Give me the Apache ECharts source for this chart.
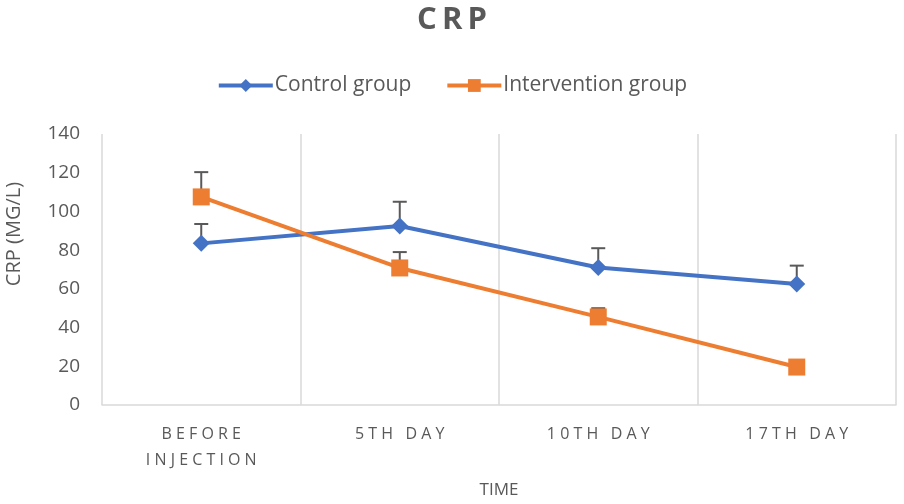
<!DOCTYPE html>
<html><head><meta charset="utf-8">
<script src="https://cdn.jsdelivr.net/npm/echarts@6/dist/echarts.min.js"></script>
<style>html,body{margin:0;padding:0;background:#fff}#c{width:904px;height:504px}</style>
</head><body><div id="c"></div>
<script>
var categories = ['B E F O R E\nI N J E C T I O N', '5 T H   D A Y', '1 0 T H   D A Y', '1 7 T H   D A Y'];
var controlValues = [83.5, 92.5, 71, 62.5];
var controlErrTop = [93.5, 105, 81, 72];
var interventionValues = [107.5, 70.8, 45.5, 19.6];
var interventionErrTop = [120.3, 79, 50, 19.6];
var yTicks = [0, 20, 40, 60, 80, 100, 120, 140];

var FONT = '"Open Sans", Lato, sans-serif';
var chart = echarts.init(document.getElementById('c'));

function errData(vals, tops) {
  return vals.map(function (v, i) { return [i, v, tops[i]]; });
}
function errRender(params, api) {
  var x = api.value(0);
  var lo = api.coord([x, api.value(1)]);
  var hi = api.coord([x, api.value(2)]);
  if (Math.abs(hi[1] - lo[1]) < 0.5) return null;
  var w = 7;
  var st = { stroke: '#595959', lineWidth: 2 };
  return { type: 'group', children: [
    { type: 'line', shape: { x1: lo[0], y1: lo[1], x2: hi[0], y2: hi[1] }, style: st },
    { type: 'line', shape: { x1: hi[0] - w, y1: hi[1], x2: hi[0] + w, y2: hi[1] }, style: st }
  ]};
}

chart.setOption({
  animation: false,
  title: { text: 'C\u2009R\u2009P', left: 'center', top: 0,
    textStyle: { fontFamily: FONT, fontSize: 31, fontWeight: 'bold', color: '#595959' } },
  legend: { top: 70, left: 'center', itemWidth: 54, itemHeight: 16, itemGap: 34,
    textStyle: { fontFamily: FONT, fontSize: 21, color: '#595959', padding: [0, 0, 0, -3] },
    lineStyle: { width: 4 },
    data: ['Control group', 'Intervention group'] },
  grid: { left: 102, right: 8, top: 134, bottom: 99 },
  graphic: [{ type: 'text', x: 14, y: 234, rotation: Math.PI / 2,
    style: { text: 'CRP (MG/L)', fontFamily: FONT, fontSize: 20, fill: '#595959',
      textAlign: 'center', textVerticalAlign: 'middle' } }],
  xAxis: { type: 'category', data: categories, boundaryGap: true,
    name: 'TIME', nameLocation: 'middle', nameGap: 77,
    nameTextStyle: { fontFamily: FONT, fontSize: 17, color: '#595959' },
    axisLine: { lineStyle: { color: '#d9d9d9', width: 1.5 } },
    axisTick: { show: false },
    splitLine: { show: true, lineStyle: { color: '#d9d9d9', width: 1.5 } },
    axisLabel: { fontFamily: FONT, fontSize: 16, color: '#595959', margin: 16, lineHeight: 26 } },
  yAxis: { type: 'value', min: yTicks[0], max: yTicks[yTicks.length - 1], interval: 20,
    axisLine: { show: false }, axisTick: { show: false }, splitLine: { show: false },
    axisLabel: { fontFamily: FONT, fontSize: 19, color: '#595959', margin: 22 } },
  series: [
    { name: 'Control group', type: 'line', data: controlValues, symbol: 'diamond', symbolSize: 17,
      lineStyle: { color: '#4472C4', width: 4 }, itemStyle: { color: '#4472C4' }, z: 3 },
    { name: 'Intervention group', type: 'line', data: interventionValues, symbol: 'rect', symbolSize: 17,
      lineStyle: { color: '#ED7D31', width: 4 }, itemStyle: { color: '#ED7D31' }, z: 3 },
    { type: 'custom', renderItem: errRender, data: errData(controlValues, controlErrTop), z: 2, silent: true },
    { type: 'custom', renderItem: errRender, data: errData(interventionValues, interventionErrTop), z: 2, silent: true }
  ]
});
</script></body></html>
